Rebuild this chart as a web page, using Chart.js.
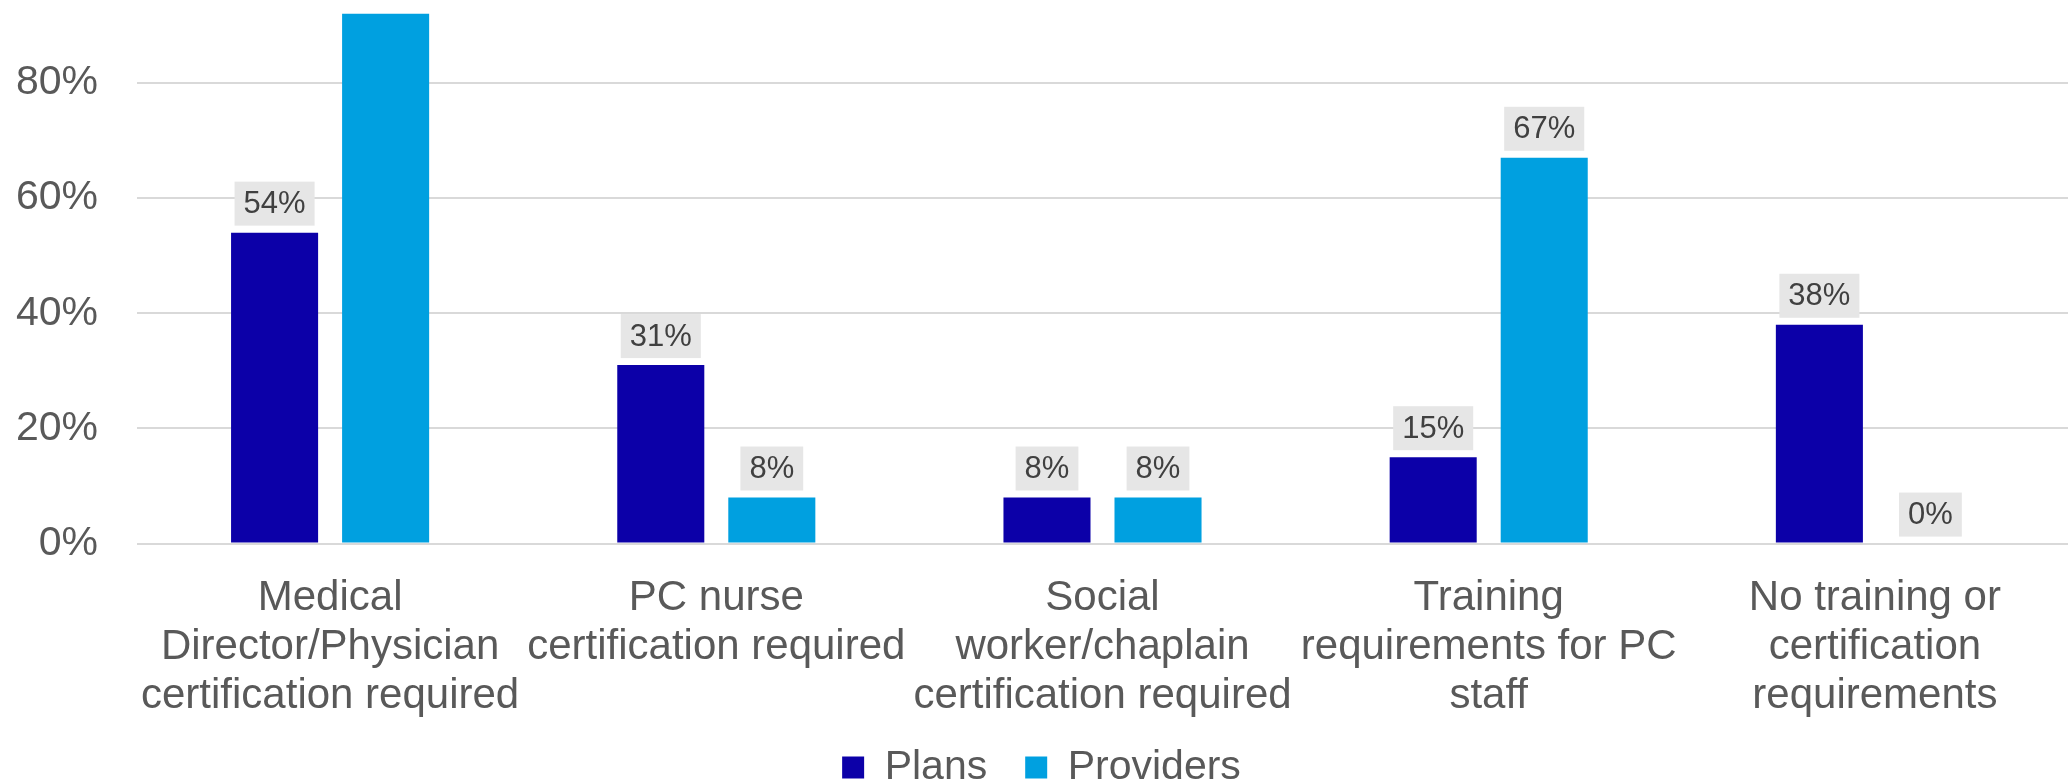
<!DOCTYPE html>
<html>
<head>
<meta charset="utf-8">
<script src="https://cdn.jsdelivr.net/npm/chart.js@4/dist/chart.umd.min.js"></script>
<style>
  html, body { margin: 0; padding: 0; background: #fff; }
  #frame { position: relative; width: 2068px; height: 784px; overflow: hidden; }
  #box { position: absolute; left: 0; top: 0; width: 2068px; height: 798px; }
</style>
</head>
<body>
<div id="frame"><div id="box"><canvas id="myChart"></canvas></div></div>
<script>
// categories (multi-line labels) and the two series, in percent
const categories = [
  ["Medical", "Director/Physician", "certification required"],
  ["PC nurse", "certification required"],
  ["Social", "worker/chaplain", "certification required"],
  ["Training", "requirements for PC", "staff"],
  ["No training or", "certification", "requirements"]
];
const plans = [54, 31, 8, 15, 38];
const providers = [92, 8, 8, 67, 0];
const yTicks = [0, 20, 40, 60, 80];

const FONT = "'Liberation Sans', Arial, sans-serif";

// grey value boxes above each bar
const valueBoxes = {
  id: "valueBoxes",
  afterLayout(chart) {
    // let the category labels run down to the legend instead of being clipped
    chart.scales.x.bottom = chart.height;
  },
  afterDatasetsDraw(chart) {
    const ctx = chart.ctx;
    ctx.save();
    ctx.font = "31px " + FONT;
    ctx.textAlign = "center";
    ctx.textBaseline = "middle";
    chart.data.datasets.forEach((ds, i) => {
      const meta = chart.getDatasetMeta(i);
      meta.data.forEach((bar, j) => {
        const txt = ds.data[j] + "%";
        const w = ctx.measureText(txt).width + 18;
        const h = 44;
        const bottom = bar.y - 7;
        if (bottom - h < 0) return; // no room above the tallest bar
        ctx.fillStyle = "#e6e6e6";
        ctx.fillRect(bar.x - w / 2, bottom - h, w, h);
        ctx.fillStyle = "#404040";
        ctx.fillText(txt, bar.x, bottom - h / 2 + 1);
      });
    });
    ctx.restore();
  }
};

new Chart(document.getElementById("myChart"), {
  type: "bar",
  data: {
    labels: categories,
    datasets: [
      { label: "Plans", data: plans, backgroundColor: "#0c00a8" },
      { label: "Providers", data: providers, backgroundColor: "#00a0e0" }
    ]
  },
  options: {
    responsive: true,
    maintainAspectRatio: false,
    animation: false,
    categoryPercentage: 0.575,
    barPercentage: 0.784,
    layout: { padding: { left: 15, right: 0, top: 0, bottom: 0 } },
    plugins: {
      tooltip: { enabled: false },
      legend: {
        position: "bottom",
        labels: {
          boxWidth: 22,
          boxHeight: 22,
          padding: 38,
          color: "#595959",
          font: { family: FONT, size: 41 }
        }
      }
    },
    scales: {
      x: {
        grid: { display: false },
        border: { display: false },
        ticks: {
          color: "#595959",
          padding: 22,
          maxRotation: 0,
          autoSkip: false,
          font: { family: FONT, size: 42, lineHeight: 1.17 }
        },
        afterFit(scale) {
          scale.paddingLeft = 0;
          scale.paddingRight = 0;
          scale.height -= 34;
        }
      },
      y: {
        min: 0,
        max: 94.4,
        grid: { color: "#d9d9d9", lineWidth: 2, drawTicks: false },
        border: { display: false },
        afterBuildTicks(scale) {
          scale.ticks = yTicks.map(v => ({ value: v }));
        },
        ticks: {
          color: "#595959",
          padding: 39,
          font: { family: FONT, size: 41 },
          callback: v => v + "%"
        },
        afterFit(scale) {
          scale.paddingTop = 0;
          scale.width = 122;
        }
      }
    }
  },
  plugins: [valueBoxes]
});
</script>
</body>
</html>
